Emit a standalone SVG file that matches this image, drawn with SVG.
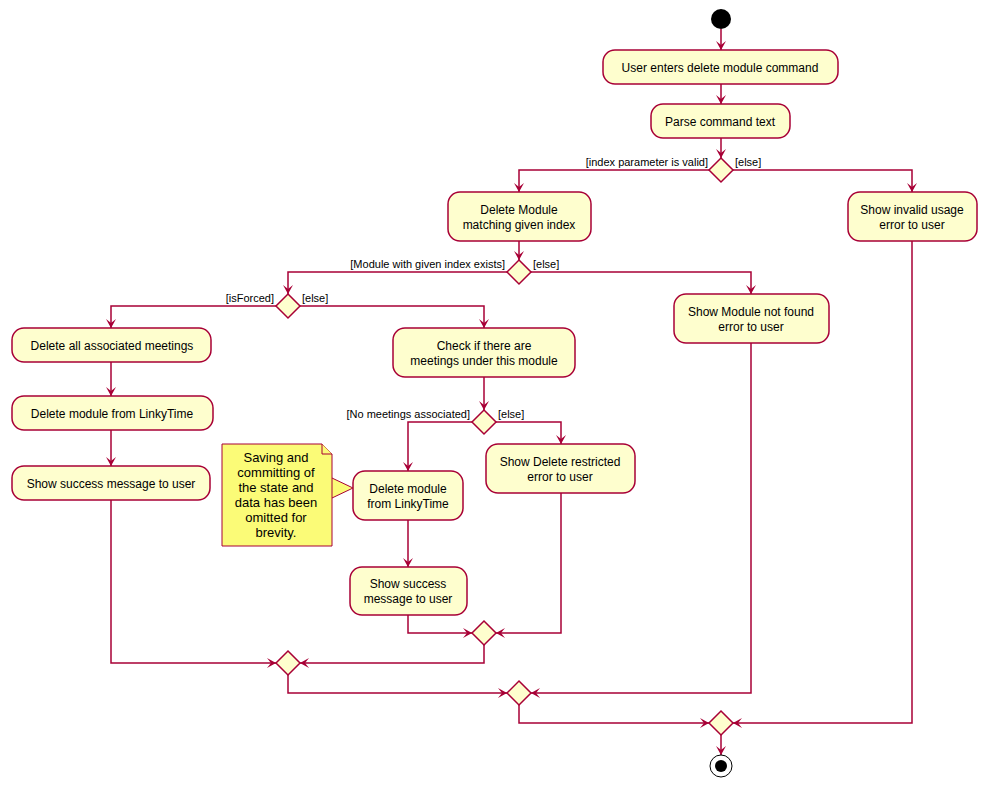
<svg xmlns="http://www.w3.org/2000/svg" width="986" height="787" viewBox="0 0 986 787">
<style>
.b{fill:#FEFECE;stroke:#A80036;stroke-width:1.5}
.d{fill:#FEFECE;stroke:#A80036;stroke-width:1.5}
.c{fill:none;stroke:#A80036;stroke-width:1.5;marker-end:url(#a)}
.l{fill:none;stroke:#A80036;stroke-width:1.5}
text{font-family:"Liberation Sans",Arial,sans-serif;font-size:12px;fill:#000}
.t{text-anchor:middle}
.g{font-size:11px}
.n{font-size:13px;text-anchor:middle}
</style>
<defs><marker id="a" markerWidth="10" markerHeight="10" refX="9" refY="5" orient="auto" markerUnits="userSpaceOnUse"><path d="M0,0 L9,5 L0,10 L4,5 Z" fill="#A80036"/></marker></defs>
<rect width="986" height="787" fill="#fff"/>
<g id="connectors">
<path class="c" d="M721,29 V50"/>
<path class="c" d="M721,84 V104"/>
<path class="c" d="M721,138 V158"/>
<path class="c" d="M709,170 H519 V192"/>
<path class="c" d="M733,170 H912 V192"/>
<path class="c" d="M519,241 V260"/>
<path class="c" d="M507,272 H288 V294"/>
<path class="c" d="M531,272 H751 V294"/>
<path class="c" d="M276,306 H111 V328"/>
<path class="c" d="M300,306 H484 V328"/>
<path class="c" d="M111,362 V396"/>
<path class="c" d="M111,430 V466"/>
<path class="c" d="M484,377 V410"/>
<path class="c" d="M472,422 H408 V471"/>
<path class="c" d="M496,422 H561 V444"/>
<path class="c" d="M408,520 V567"/>
<path class="c" d="M408,615 V633 H472"/>
<path class="c" d="M561,493 V633 H496"/>
<path class="c" d="M111,500 V663 H276"/>
<path class="c" d="M484,645 V663 H300"/>
<path class="c" d="M288,675 V693 H507"/>
<path class="c" d="M751,343 V693 H531"/>
<path class="c" d="M519,705 V723 H709"/>
<path class="c" d="M912,241 V723 H733"/>
<path class="c" d="M721,735 V755"/>
<text class="g" x="708" y="166" text-anchor="end">[index parameter is valid]</text>
<text class="g" x="735" y="166">[else]</text>
<text class="g" x="505" y="268" text-anchor="end">[Module with given index exists]</text>
<text class="g" x="533" y="268">[else]</text>
<text class="g" x="274" y="302" text-anchor="end">[isForced]</text>
<text class="g" x="302" y="302">[else]</text>
<text class="g" x="470" y="418" text-anchor="end">[No meetings associated]</text>
<text class="g" x="498" y="418">[else]</text>
</g>
<g id="start"><circle cx="721" cy="19" r="10" fill="#000"/></g>
<g id="n1"><rect class="b" x="603" y="50" width="235" height="34" rx="12"/><text class="t" x="720" y="72">User enters delete module command</text></g>
<g id="n2"><rect class="b" x="651" y="104" width="139" height="34" rx="12"/><text class="t" x="720" y="126">Parse command text</text></g>
<g id="d1"><path class="d" d="M721,158 L733,170 L721,182 L709,170 Z"/></g>
<g id="n3"><rect class="b" x="448" y="192" width="143" height="49" rx="12"/><text class="t" x="519" y="214">Delete Module</text><text class="t" x="519" y="229">matching given index</text></g>
<g id="n4"><rect class="b" x="848" y="192" width="129" height="49" rx="12"/><text class="t" x="912" y="214">Show invalid usage</text><text class="t" x="912" y="229">error to user</text></g>
<g id="d2"><path class="d" d="M519,260 L531,272 L519,284 L507,272 Z"/></g>
<g id="d3"><path class="d" d="M288,294 L300,306 L288,318 L276,306 Z"/></g>
<g id="n5"><rect class="b" x="674" y="294" width="155" height="49" rx="12"/><text class="t" x="751" y="316">Show Module not found</text><text class="t" x="751" y="331">error to user</text></g>
<g id="n6"><rect class="b" x="12" y="328" width="199" height="34" rx="12"/><text class="t" x="112" y="350">Delete all associated meetings</text></g>
<g id="n7"><rect class="b" x="393" y="328" width="182" height="49" rx="12"/><text class="t" x="484" y="350">Check if there are</text><text class="t" x="484" y="365">meetings under this module</text></g>
<g id="n8"><rect class="b" x="12" y="396" width="201" height="34" rx="12"/><text class="t" x="112" y="418">Delete module from LinkyTime</text></g>
<g id="d4"><path class="d" d="M484,410 L496,422 L484,434 L472,422 Z"/></g>
<g id="n9"><rect class="b" x="12" y="466" width="198" height="34" rx="12"/><text class="t" x="111" y="488">Show success message to user</text></g>
<g id="n10"><rect class="b" x="486" y="444" width="149" height="49" rx="12"/><text class="t" x="560" y="466">Show Delete restricted</text><text class="t" x="560" y="481">error to user</text></g>
<g id="n11"><rect class="b" x="353" y="471" width="110" height="49" rx="12"/><text class="t" x="408" y="493">Delete module</text><text class="t" x="408" y="508">from LinkyTime</text></g>
<g id="note"><path d="M222,444 H322 L332,454 V546 H222 Z M332,478 L353,488 L332,498" fill="#FBFB77" stroke="#A80036" stroke-width="1"/><path d="M322,444 V454 H332" fill="#FBFB77" stroke="#A80036" stroke-width="1"/>
<text class="n" x="276" y="462">Saving and</text><text class="n" x="276" y="477">committing of</text><text class="n" x="276" y="492">the state and</text><text class="n" x="276" y="507">data has been</text><text class="n" x="276" y="522">omitted for</text><text class="n" x="276" y="537">brevity.</text></g>
<g id="n12"><rect class="b" x="350" y="567" width="117" height="48" rx="12"/><text class="t" x="408" y="588">Show success</text><text class="t" x="408" y="603">message to user</text></g>
<g id="m1"><path class="d" d="M484,621 L496,633 L484,645 L472,633 Z"/></g>
<g id="m2"><path class="d" d="M288,651 L300,663 L288,675 L276,663 Z"/></g>
<g id="m3"><path class="d" d="M519,681 L531,693 L519,705 L507,693 Z"/></g>
<g id="m4"><path class="d" d="M721,711 L733,723 L721,735 L709,723 Z"/></g>
<g id="end"><circle cx="721" cy="766" r="11" fill="none" stroke="#000" stroke-width="1"/><circle cx="721" cy="766" r="6" fill="#000"/></g>
</svg>
